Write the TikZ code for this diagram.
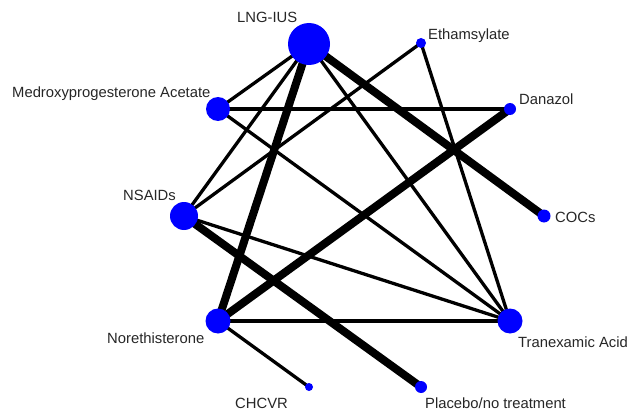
\documentclass[tikz,border=0pt]{standalone}
\usepackage{fontspec}
\setmainfont{Liberation Sans}
\begin{document}
\begin{tikzpicture}[x=1pt,y=-1pt,
  trt/.style={circle,fill=blue,draw=none,inner sep=0pt},
  lbl/.style={anchor=base west,inner sep=0pt,text=black!85,font=\fontsize{14.8}{16}\selectfont},
  thin edge/.style={draw=black,line width=3.3pt},
  thick edge/.style={draw=black,line width=8pt}]
\useasboundingbox (0,0) rectangle (627,412);
% node positions
\coordinate (pLNG) at (309,44);
\coordinate (pETH) at (421,43);
\coordinate (pMED) at (218,109);
\coordinate (pDAN) at (510,109);
\coordinate (pNSA) at (184,216);
\coordinate (pCOC) at (544,216);
\coordinate (pNOR) at (218,321);
\coordinate (pTRA) at (510,321);
\coordinate (pCHC) at (309,387);
\coordinate (pPLA) at (421,387);
% edges
\draw[thin edge] (pLNG) -- (pMED);
\draw[thin edge] (pLNG) -- (pNSA);
\draw[thin edge] (pLNG) -- (pTRA);
\draw[thin edge] (pETH) -- (pNSA);
\draw[thin edge] (pETH) -- (pTRA);
\draw[thin edge] (pMED) -- (pDAN);
\draw[thin edge] (pMED) -- (pTRA);
\draw[thin edge] (pNSA) -- (pTRA);
\draw[thin edge] (pNOR) -- (pTRA);
\draw[thin edge] (pNOR) -- (pCHC);
\draw[thick edge] (pLNG) -- (pNOR);
\draw[thick edge] (pLNG) -- (pCOC);
\draw[thick edge] (pDAN) -- (pNOR);
\draw[thick edge] (pNSA) -- (pPLA);
% treatment nodes
\node[trt,minimum size=42pt] (LNG) at (pLNG) {};
\node[trt,minimum size=10pt] (ETH) at (pETH) {};
\node[trt,minimum size=24pt] (MED) at (pMED) {};
\node[trt,minimum size=12pt] (DAN) at (pDAN) {};
\node[trt,minimum size=28pt] (NSA) at (pNSA) {};
\node[trt,minimum size=13pt] (COC) at (pCOC) {};
\node[trt,minimum size=25pt] (NOR) at (pNOR) {};
\node[trt,minimum size=25pt] (TRA) at (pTRA) {};
\node[trt,minimum size=8pt] (CHC) at (pCHC) {};
\node[trt,minimum size=12pt] (PLA) at (pPLA) {};
% labels
\node[lbl] (lLNG) at (237,23) {LNG-IUS};
\node[lbl] (lETH) at (428,40) {Ethamsylate};
\node[lbl] (lMED) at (12,97) {Medroxyprogesterone Acetate};
\node[lbl] (lDAN) at (519,105) {Danazol};
\node[lbl] (lNSA) at (123,200) {NSAIDs};
\node[lbl] (lCOC) at (555,222) {COCs};
\node[lbl] (lNOR) at (107,343) {Norethisterone};
\node[lbl] (lTRA) at (518,347) {Tranexamic Acid};
\node[lbl] (lCHC) at (235,408) {CHCVR};
\node[lbl] (lPLA) at (425,408) {Placebo/no treatment};
\end{tikzpicture}
\end{document}
